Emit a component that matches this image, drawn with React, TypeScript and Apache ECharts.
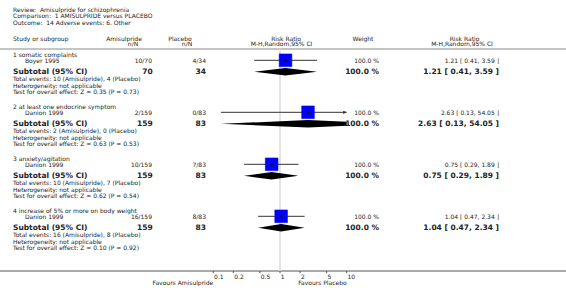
import React, { useEffect, useRef } from "react";
import * as echarts from "echarts";

// ---------- data ----------
const reviewTitle = "Review:  Amisulpride for schizophrenia";
const comparisonTitle = "Comparison:  1 AMISULPRIDE versus PLACEBO";
const outcomeTitle = "Outcome:  14 Adverse events: 6. Other";

const treatmentName = "Amisulpride";
const controlName = "Placebo";

const subgroups = [
  "1 somatic complaints",
  "2 at least one endocrine symptom",
  "3 anxiety/agitation",
  "4 increase of 5% or more on body weight",
];
const studies = ["Boyer 1995", "Danion 1999", "Danion 1999", "Danion 1999"];
const treatEvents = [10, 2, 10, 16];
const treatTotals = [70, 159, 159, 159];
const ctrlEvents = [4, 0, 7, 8];
const ctrlTotals = [34, 83, 83, 83];
const riskRatios = [1.21, 2.63, 0.75, 1.04];
const ciLower = [0.41, 0.13, 0.29, 0.47];
const ciUpper = [3.59, 54.05, 1.89, 2.34];
const weights = [100, 100, 100, 100];
const zValues = ["0.35", "0.63", "0.62", "0.10"];
const pValues = ["0.73", "0.53", "0.54", "0.92"];

const tickValues = [0.1, 0.2, 0.5, 1, 2, 5, 10];
const tickLabels = ["0.1", "0.2", "0.5", "1", "2", "5", "10"];
const favoursLeft = "Favours Amisulpride";
const favoursRight = "Favours Placebo";

// ---------- layout ----------
const W = 566;
const H = 301;
const PLOT_LEFT = 213.3;
const PLOT_RIGHT = 346.7;
const HEADER_LINE_Y = 49;
const AXIS_Y = 271;
const GROUP_TOP = 54;
const GROUP_STEP = 52;
const OFF_STUDY = 6.3;
const OFF_SUB = 17.8;
const OFF_TOTAL = 24.6;
const OFF_HET = 31.1;
const OFF_TEST = 37.7;
const SQUARE = 12.7;
const DIAMOND_H = 3.7;

const FONT = '"DejaVu Sans", Verdana, sans-serif';
const SMALL = `6px ${FONT}`;
const BOLD = `bold 7.5px ${FONT}`;
const TEXT_COLOR = "#222";

const fmt = (i: number) =>
  `${riskRatios[i].toFixed(2)} [ ${ciLower[i].toFixed(2)}, ${ciUpper[i].toFixed(2)} ]`;

function txt(text: string, x: number, y: number, font: string, align = "left") {
  return {
    type: "text",
    x,
    y,
    silent: true,
    style: {
      text,
      font,
      fill: TEXT_COLOR,
      align,
      verticalAlign: "middle",
      textAlign: align,
      textVerticalAlign: "middle",
    },
  };
}

export default function App() {
  const ref = useRef<HTMLDivElement>(null);

  useEffect(() => {
    document.body.style.margin = "0";
    const chart = echarts.init(ref.current!, null, { renderer: "svg" });

    const graphics: any[] = [];
    graphics.push(txt(reviewTitle, 13, 9, SMALL));
    graphics.push(txt(comparisonTitle, 13, 15.5, SMALL));
    graphics.push(txt(outcomeTitle, 13, 22, SMALL));
    graphics.push(txt("Study or subgroup", 13, 38, SMALL));
    graphics.push(txt(treatmentName, 124, 38, SMALL, "center"));
    graphics.push(txt("n/N", 133, 43.7, SMALL, "center"));
    graphics.push(txt(controlName, 180, 38, SMALL, "center"));
    graphics.push(txt("n/N", 187, 43.7, SMALL, "center"));
    graphics.push(txt("Risk Ratio", 286, 38, SMALL, "center"));
    graphics.push(txt("M-H,Random,95% CI", 281.5, 43.7, SMALL, "center"));
    graphics.push(txt("Weight", 363, 38, SMALL, "center"));
    graphics.push(txt("Risk Ratio", 464.5, 38, SMALL, "center"));
    graphics.push(txt("M-H,Random,95% CI", 462, 43.7, SMALL, "center"));
    graphics.push({
      type: "line",
      silent: true,
      shape: { x1: 0, y1: HEADER_LINE_Y, x2: W, y2: HEADER_LINE_Y },
      style: { stroke: "#8a8a8a", lineWidth: 1.2 },
    });
    graphics.push({
      type: "line",
      silent: true,
      shape: { x1: 0, y1: AXIS_Y, x2: W, y2: AXIS_Y },
      style: { stroke: "#555", lineWidth: 1 },
    });
    graphics.push(txt(favoursLeft, PLOT_LEFT, 282, SMALL, "right"));
    graphics.push(txt(favoursRight, PLOT_RIGHT, 282, SMALL, "right"));

    subgroups.forEach((name, i) => {
      const g = GROUP_TOP + i * GROUP_STEP;
      graphics.push(txt(name, 13, g, SMALL));
      graphics.push(txt(studies[i], 25, g + OFF_STUDY, SMALL));
      graphics.push(txt(`${treatEvents[i]}/${treatTotals[i]}`, 152, g + OFF_STUDY, SMALL, "right"));
      graphics.push(txt(`${ctrlEvents[i]}/${ctrlTotals[i]}`, 206, g + OFF_STUDY, SMALL, "right"));
      graphics.push(txt(`${weights[i].toFixed(1)} %`, 379, g + OFF_STUDY, SMALL, "right"));
      graphics.push(txt(fmt(i), 499, g + OFF_STUDY, SMALL, "right"));
      graphics.push(txt("Subtotal (95% CI)", 13, g + OFF_SUB, BOLD));
      graphics.push(txt(`${treatTotals[i]}`, 152.7, g + OFF_SUB, BOLD, "right"));
      graphics.push(txt(`${ctrlTotals[i]}`, 206, g + OFF_SUB, BOLD, "right"));
      graphics.push(txt(`${weights[i].toFixed(1)} %`, 379, g + OFF_SUB, BOLD, "right"));
      graphics.push(txt(fmt(i), 499, g + OFF_SUB, BOLD, "right"));
      graphics.push(
        txt(
          `Total events: ${treatEvents[i]} (${treatmentName}), ${ctrlEvents[i]} (${controlName})`,
          13,
          g + OFF_TOTAL,
          SMALL
        )
      );
      graphics.push(txt("Heterogeneity: not applicable", 13, g + OFF_HET, SMALL));
      graphics.push(
        txt(`Test for overall effect: Z = ${zValues[i]} (P = ${pValues[i]})`, 13, g + OFF_TEST, SMALL)
      );
    });

    const studyData = riskRatios.map((rr, i) => [
      rr,
      ciLower[i],
      ciUpper[i],
      GROUP_TOP + i * GROUP_STEP + OFF_STUDY,
      weights[i],
    ]);
    const subData = riskRatios.map((rr, i) => [
      rr,
      ciLower[i],
      ciUpper[i],
      GROUP_TOP + i * GROUP_STEP + OFF_SUB,
    ]);

    const xMin = tickValues[0];
    const xMax = tickValues[tickValues.length - 1];

    const option: any = {
      animation: false,
      grid: { left: PLOT_LEFT, width: PLOT_RIGHT - PLOT_LEFT, top: 0, height: H },
      xAxis: { type: "log", logBase: 10, min: xMin, max: xMax, show: false },
      yAxis: { type: "value", min: 0, max: H, inverse: true, show: false },
      graphic: { elements: graphics },
      series: [
        {
          type: "custom",
          name: "null line",
          clip: false,
          silent: true,
          data: [[1]],
          renderItem: (params: any, api: any) => {
            const top = api.coord([api.value(0), HEADER_LINE_Y]);
            const bot = api.coord([api.value(0), AXIS_Y]);
            return {
              type: "line",
              shape: { x1: top[0], y1: top[1], x2: bot[0], y2: bot[1] },
              style: { stroke: "#dcdcdc", lineWidth: 1.6 },
            };
          },
        },
        {
          type: "custom",
          name: "ticks",
          clip: false,
          silent: true,
          data: tickValues.map((v, i) => [v, i]),
          renderItem: (params: any, api: any) => {
            const p = api.coord([api.value(0), AXIS_Y]);
            const label = tickLabels[api.value(1)];
            return {
              type: "group",
              children: [
                {
                  type: "line",
                  shape: { x1: p[0], y1: p[1], x2: p[0], y2: p[1] + 2.2 },
                  style: { stroke: "#555", lineWidth: 1 },
                },
                {
                  type: "text",
                  style: {
                    text: label,
                    x: p[0] + 0.8,
                    y: p[1] + 5.3,
                    font: SMALL,
                    fill: TEXT_COLOR,
                    align: "left",
                    verticalAlign: "middle",
                  },
                },
              ],
            };
          },
        },
        {
          type: "custom",
          name: "studies",
          clip: false,
          silent: true,
          data: studyData,
          renderItem: (params: any, api: any) => {
            const y = api.value(3);
            const pe = api.coord([api.value(0), y]);
            const pl = api.coord([api.value(1), y]);
            const ph = api.coord([api.value(2), y]);
            const lim1 = api.coord([xMin, y])[0];
            const lim2 = api.coord([xMax, y])[0];
            const x1 = Math.max(pl[0], lim1);
            const x2 = Math.min(ph[0], lim2);
            const children: any[] = [
              {
                type: "line",
                shape: { x1, y1: y, x2, y2: y },
                style: { stroke: "#333", lineWidth: 1 },
              },
            ];
            if (ph[0] > lim2) {
              children.push({
                type: "polygon",
                shape: { points: [[lim2, y], [lim2 - 3.5, y - 1.6], [lim2 - 3.5, y + 1.6]] },
                style: { fill: "#333" },
              });
            }
            if (pl[0] < lim1) {
              children.push({
                type: "polygon",
                shape: { points: [[lim1, y], [lim1 + 3.5, y - 1.6], [lim1 + 3.5, y + 1.6]] },
                style: { fill: "#333" },
              });
            }
            const s = SQUARE * Math.sqrt(api.value(4) / 100);
            children.push({
              type: "rect",
              shape: { x: pe[0] - s / 2, y: pe[1] - s / 2, width: s, height: s },
              style: { fill: "#0000ff", stroke: "#0000e0", lineWidth: 0.5 },
            });
            children.push({
              type: "line",
              shape: { x1: pe[0] - 1.6, y1: y, x2: pe[0] + 1.6, y2: y },
              style: { stroke: "#000", lineWidth: 0.8 },
            });
            children.push({
              type: "line",
              shape: { x1: pe[0], y1: y - 1.6, x2: pe[0], y2: y + 1.6 },
              style: { stroke: "#000", lineWidth: 0.8 },
            });
            return { type: "group", children };
          },
        },
        {
          type: "custom",
          name: "subtotals",
          clip: false,
          silent: true,
          data: subData,
          renderItem: (params: any, api: any) => {
            const y = api.value(3);
            const xe = api.coord([api.value(0), y])[0];
            const xl = api.coord([api.value(1), y])[0];
            const xr = api.coord([api.value(2), y])[0];
            const lim1 = api.coord([xMin, y])[0];
            const lim2 = api.coord([xMax, y])[0];
            const h = DIAMOND_H;
            const pts: number[][] = [];
            if (xl < lim1) {
              const f = (lim1 - xl) / (xe - xl);
              pts.push([lim1, y + h * f], [lim1, y - h * f]);
            } else {
              pts.push([xl, y]);
            }
            pts.push([xe, y - h]);
            if (xr > lim2) {
              const f = (xr - lim2) / (xr - xe);
              pts.push([lim2, y - h * f], [lim2, y + h * f]);
            } else {
              pts.push([xr, y]);
            }
            pts.push([xe, y + h]);
            return {
              type: "polygon",
              shape: { points: pts },
              style: { fill: "#000" },
            };
          },
        },
      ],
    };

    chart.setOption(option);
    return () => chart.dispose();
  }, []);

  return (
    <div
      ref={ref}
      style={{ position: "absolute", left: 0, top: 0, width: W, height: H }}
    />
  );
}
